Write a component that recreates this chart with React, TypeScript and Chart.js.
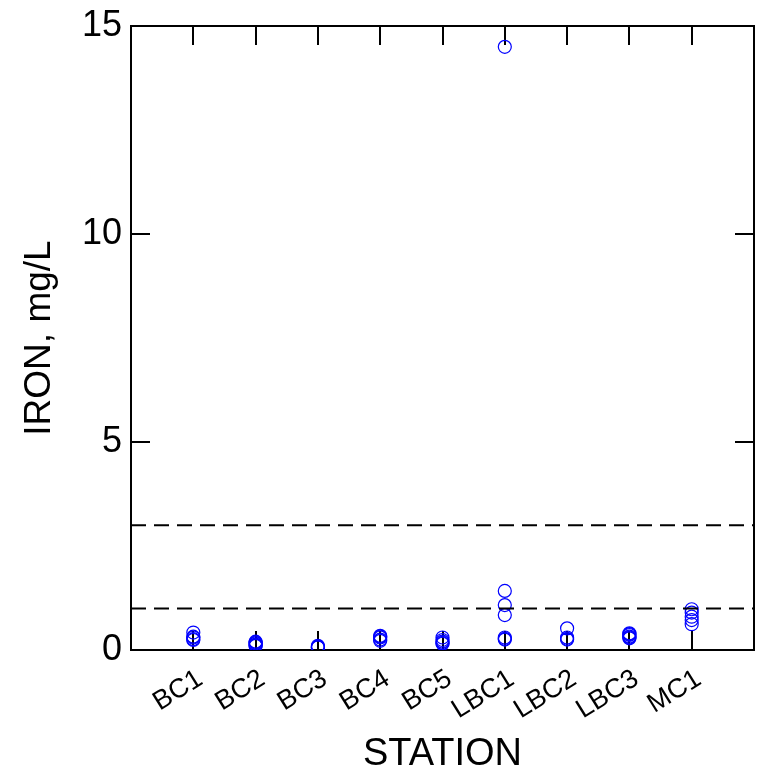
import React, { useEffect, useRef } from "react";
import { Chart, registerables } from "chart.js";

Chart.register(...registerables);

const stations = ["BC1", "BC2", "BC3", "BC4", "BC5", "LBC1", "LBC2", "LBC3", "MC1"];
const bc1 = [0.42, 0.32, 0.3, 0.26, 0.24];
const bc2 = [0.2, 0.18, 0.16, 0.13, 0.11, 0.1];
const bc3 = [0.1, 0.08, 0.07, 0.06];
const bc4 = [0.34, 0.32, 0.3, 0.25, 0.22];
const bc5 = [0.3, 0.24, 0.2, 0.17, 0.15];
const lbc1 = [14.5, 1.42, 1.08, 0.84, 0.3, 0.27, 0.25];
const lbc2 = [0.52, 0.3, 0.27, 0.25];
const lbc3 = [0.4, 0.38, 0.36, 0.32, 0.3, 0.28];
const mc1 = [0.98, 0.9, 0.8, 0.72, 0.62];
const stationValues = [bc1, bc2, bc3, bc4, bc5, lbc1, lbc2, lbc3, mc1];
const referenceLevels = [1, 3];
const yTicks = [0, 5, 10, 15];

const FONT = "'Liberation Sans', Arial, sans-serif";
const X_MIN = 0;
const X_MAX = stations.length + 1;

function fixSize(key: "width" | "height", size: number) {
  return (s: any) => {
    s[key] = size;
    s.paddingLeft = 0;
    s.paddingRight = 0;
    s.paddingTop = 0;
    s.paddingBottom = 0;
  };
}

export default function App() {
  const ref = useRef<HTMLCanvasElement | null>(null);

  useEffect(() => {
    if (!ref.current) return;
    const points: { x: number; y: number }[] = [];
    stationValues.forEach((vals, i) => {
      vals.forEach((v) => points.push({ x: i + 1, y: v }));
    });
    const refSets = referenceLevels.map((lvl) => ({
      type: "line" as const,
      data: [
        { x: X_MIN, y: lvl },
        { x: X_MAX, y: lvl },
      ],
      borderColor: "#000000",
      borderWidth: 2,
      borderDash: [15, 8],
      pointRadius: 0,
      fill: false,
    }));

    const tickLen = -19;
    const xTicks = (s: any) => {
      s.ticks = Array.from({ length: X_MAX - X_MIN + 1 }, (_, i) => ({ value: X_MIN + i }));
    };
    const yTickBuild = (s: any) => {
      s.ticks = yTicks.map((v) => ({ value: v }));
    };
    const grid = { drawOnChartArea: false, tickLength: tickLen, color: "#000", lineWidth: 2 };
    const border = { display: true, color: "#000", width: 2 };

    const chart = new Chart(ref.current, {
      type: "scatter",
      data: {
        datasets: [
          ...refSets,
          {
            type: "scatter",
            data: points,
            borderColor: "#0000ff",
            backgroundColor: "rgba(0,0,0,0)",
            borderWidth: 1.2,
            pointRadius: 6.5,
            pointStyle: "circle",
          },
        ],
      } as any,
      options: {
        responsive: false,
        animation: false,
        devicePixelRatio: 1,
        layout: { padding: 0 },
        plugins: { legend: { display: false }, tooltip: { enabled: false } },
        scales: {
          x: {
            type: "linear",
            position: "bottom",
            min: X_MIN,
            max: X_MAX,
            afterBuildTicks: xTicks,
            afterFit: fixSize("height", 124),
            grid,
            border,
            ticks: {
              autoSkip: false,
              minRotation: 32,
              maxRotation: 32,
              padding: 32,
              labelOffset: 7,
              color: "#000",
              font: { family: FONT, size: 27 },
              callback: (v: any) => stations[Number(v) - 1] ?? "",
            },
            title: {
              display: true,
              text: "STATION",
              color: "#000",
              font: { family: FONT, size: 38, lineHeight: 1 },
              padding: { top: 0, bottom: 0 },
            },
          },
          x2: {
            type: "linear",
            position: "top",
            min: X_MIN,
            max: X_MAX,
            afterBuildTicks: xTicks,
            afterFit: fixSize("height", 26),
            grid,
            border,
            ticks: { display: false },
          },
          y: {
            type: "linear",
            position: "left",
            min: 0,
            max: 15,
            afterBuildTicks: yTickBuild,
            afterFit: fixSize("width", 131),
            grid,
            border,
            ticks: {
              padding: 28,
              color: "#000",
              font: { family: FONT, size: 36 },
            },
            title: {
              display: true,
              text: "IRON, mg/L",
              color: "#000",
              font: { family: FONT, size: 37, lineHeight: 1 },
              padding: { top: 21, bottom: 0 },
            },
          },
          y2: {
            type: "linear",
            position: "right",
            min: 0,
            max: 15,
            afterBuildTicks: yTickBuild,
            afterFit: fixSize("width", 11),
            grid,
            border,
            ticks: { display: false },
          },
        },
      } as any,
    });
    return () => chart.destroy();
  }, []);

  return (
    <div style={{ position: "absolute", left: 0, top: 0, width: 765, height: 774, background: "#fff" }}>
      <canvas ref={ref} width={765} height={774} style={{ width: 765, height: 774, display: "block" }} />
    </div>
  );
}
